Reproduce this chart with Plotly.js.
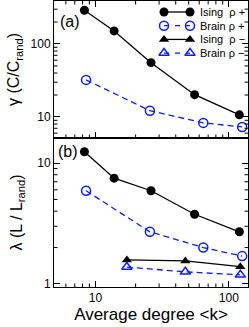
<!DOCTYPE html>
<html>
<head>
<meta charset="utf-8">
<script src="https://cdn.plot.ly/plotly-3.0.1.min.js"></script>
<style>html,body{margin:0;padding:0;background:#fff;}#chart{width:249px;height:327px;}</style>
</head>
<body>
<div id="chart"></div>
<script>
// Average degree <k>
const degreeIsingPlus = [8.26, 13.8, 26.1, 55.4, 120];
const degreeBrainPlus = [8.5, 25.6, 64.4, 126];
const degreeMinus = [17.2, 47.2, 122];

// gamma = C / C_rand (panel a)
const gammaIsingPlus = [290, 151, 55.5, 20.2, 10.7];
const gammaBrainPlus = [32.2, 12.2, 8.3, 7.3];

// lambda = L / L_rand (panel b)
const lambdaIsingPlus = [12.4, 7.5, 5.9, 3.77, 2.7];
const lambdaBrainPlus = [5.9, 2.7, 2.0, 1.70];
const lambdaIsingMinus = [1.58, 1.55, 1.39];
const lambdaBrainMinus = [1.38, 1.26, 1.19];

// legend labels and tick labels
const seriesNames = ['Ising\u00a0\u00a0\u03c1 +', 'Brain \u03c1 +', 'Ising\u00a0\u00a0\u03c1 \u2212', 'Brain \u03c1 \u2212'];
const xTickVals = [10, 100];
const xTickText = ['10', '100'];
const xMinorVals = [6, 7, 8, 9, 20, 30, 40, 50, 60, 70, 80, 90];
const gammaTickVals = [10, 100];
const gammaTickText = ['10', '100'];
const gammaMinorVals = [6, 7, 8, 9, 20, 30, 40, 50, 60, 70, 80, 90, 200, 300];
const lambdaTickVals = [1, 10];
const lambdaTickText = ['1', '10'];
const lambdaMinorVals = [2, 3, 4, 5, 6, 7, 8, 9];

const BLUE = '#0a1eff';
const BLACK = '#000000';
const FONT = 'Liberation Sans, Arial, Helvetica, sans-serif';

const X_RANGE = [0.689, 2.144];
const GAMMA_RANGE = [0.712, 2.589];
const LAMBDA_RANGE = [-0.025, 1.207];
const TOP_DOMAIN = [0.521, 1];
const BOTTOM_DOMAIN = [0, 0.521];

const styles = [
  {mode: 'lines+markers', line: {color: BLACK, width: 1.3}, marker: {symbol: 'circle', size: 9, color: BLACK}},
  {mode: 'lines+markers', line: {color: BLUE, width: 1.3, dash: '6px,4px'},
   marker: {symbol: 'circle-open', size: 9, color: BLUE, line: {width: 1.5, color: BLUE}}},
  {mode: 'lines+markers', line: {color: BLACK, width: 1.3}, marker: {symbol: 'triangle-up', size: 9, color: BLACK}},
  {mode: 'lines+markers', line: {color: BLUE, width: 1.3, dash: '6px,4px'},
   marker: {symbol: 'triangle-up-open', size: 9, color: BLUE, line: {width: 1.5, color: BLUE}}}
];

function tr(x, y, xa, ya, s, name) {
  return Object.assign({x: x, y: y, xaxis: xa, yaxis: ya, name: name, showlegend: false, cliponaxis: false}, styles[s]);
}

const traces = [
  tr(degreeIsingPlus, gammaIsingPlus, 'x2', 'y2', 0, seriesNames[0]),
  tr(degreeBrainPlus, gammaBrainPlus, 'x2', 'y2', 1, seriesNames[1]),
  tr(degreeIsingPlus, lambdaIsingPlus, 'x', 'y', 0, seriesNames[0]),
  tr(degreeBrainPlus, lambdaBrainPlus, 'x', 'y', 1, seriesNames[1]),
  tr(degreeMinus, lambdaIsingMinus, 'x', 'y', 2, seriesNames[2]),
  tr(degreeMinus, lambdaBrainMinus, 'x', 'y', 3, seriesNames[3])
];

// legend key: sample line with a marker at each end, drawn on a hidden helper axis pair
const legendAnnotations = [];
seriesNames.forEach(function (name, i) {
  const s = Object.assign({x: [0, 1], y: [i, i], xaxis: 'x3', yaxis: 'y3', name: name, showlegend: false,
    hoverinfo: 'skip', cliponaxis: false}, styles[i]);
  if (i % 2 === 1) { s.line = Object.assign({}, s.line, {dash: '5px,6px'}); }
  traces.push(s);
  legendAnnotations.push({text: name, xref: 'x3', yref: 'y3', x: 1, y: i, xanchor: 'left', yanchor: 'middle',
    xshift: 8, showarrow: false, font: {family: FONT, size: 11, color: '#000'}});
});

// minor tick marks as short pixel-sized shapes placed on the log axes (data values)
const minorShapes = [];
const tickLine = {color: '#000', width: 1};
function xMinor(xref, yAnchor, dir) {
  xMinorVals.forEach(function (v) {
    minorShapes.push({type: 'line', xref: xref, yref: 'paper', ysizemode: 'pixel', yanchor: yAnchor,
      x0: v, x1: v, y0: 0, y1: 3.5 * dir, line: tickLine, layer: 'above'});
  });
}
function yMinor(yref, vals) {
  vals.forEach(function (v) {
    minorShapes.push({type: 'line', yref: yref, xref: 'paper', xsizemode: 'pixel', xanchor: 0,
      y0: v, y1: v, x0: 0, x1: 3.5, line: tickLine, layer: 'above'});
    minorShapes.push({type: 'line', yref: yref, xref: 'paper', xsizemode: 'pixel', xanchor: 1,
      y0: v, y1: v, x0: 0, x1: -3.5, line: tickLine, layer: 'above'});
  });
}
xMinor('x', 0, 1);
xMinor('x2', TOP_DOMAIN[0], 1);
xMinor('x2', TOP_DOMAIN[1], -1);
yMinor('y', lambdaMinorVals);
yMinor('y2', gammaMinorVals);

const axisCommon = {
  type: 'log', showgrid: false, zeroline: false, showline: true, linecolor: '#000', linewidth: 1,
  ticks: 'inside', ticklen: 6, tickcolor: '#000', tickwidth: 1,
  tickfont: {family: FONT, size: 12, color: '#000'}
};

const layout = {
  width: 249, height: 327,
  margin: {l: 54, r: 1, t: 1, b: 40},
  paper_bgcolor: '#fff', plot_bgcolor: '#fff',
  font: {family: FONT, color: '#000'},
  showlegend: false,
  xaxis: Object.assign({}, axisCommon, {
    anchor: 'y', domain: [0, 1], range: X_RANGE, mirror: true,
    tickmode: 'array', tickvals: xTickVals, ticktext: xTickText,
    title: {text: 'Average degree &lt;k&gt;', font: {family: FONT, size: 17}, standoff: 2}
  }),
  xaxis2: Object.assign({}, axisCommon, {
    anchor: 'y2', domain: [0, 1], range: X_RANGE, mirror: 'allticks', matches: 'x',
    tickmode: 'array', tickvals: xTickVals, ticktext: xTickText, showticklabels: false
  }),
  yaxis: Object.assign({}, axisCommon, {
    anchor: 'x', domain: BOTTOM_DOMAIN, range: LAMBDA_RANGE, mirror: 'allticks',
    tickmode: 'array', tickvals: lambdaTickVals, ticktext: lambdaTickText,
    title: {text: '\u03bb (L / L<sub>rand</sub>)', font: {family: FONT, size: 16}, standoff: 10}
  }),
  yaxis2: Object.assign({}, axisCommon, {
    anchor: 'x2', domain: TOP_DOMAIN, range: GAMMA_RANGE, mirror: 'allticks',
    tickmode: 'array', tickvals: gammaTickVals, ticktext: gammaTickText,
    title: {text: '\u03b3 (C/C<sub>rand</sub>)', font: {family: FONT, size: 16}, standoff: 6}
  }),
  xaxis3: {anchor: 'y3', overlaying: 'x2', domain: [0, 1], range: [-4.231, 3.231], visible: false, fixedrange: true},
  yaxis3: {anchor: 'x3', overlaying: 'y2', domain: TOP_DOMAIN, range: [9.197, -0.803], visible: false, fixedrange: true},
  shapes: minorShapes,
  annotations: [
    {text: '(a)', xref: 'paper', yref: 'paper', x: 0.02, y: 0.93, xanchor: 'left', yanchor: 'middle',
     showarrow: false, font: {family: FONT, size: 16}},
    {text: '(b)', xref: 'paper', yref: 'paper', x: 0.01, y: 0.475, xanchor: 'left', yanchor: 'middle',
     showarrow: false, font: {family: FONT, size: 16}}
  ].concat(legendAnnotations)
};

Plotly.newPlot('chart', traces, layout, {displayModeBar: false, staticPlot: true});
</script>
</body>
</html>
